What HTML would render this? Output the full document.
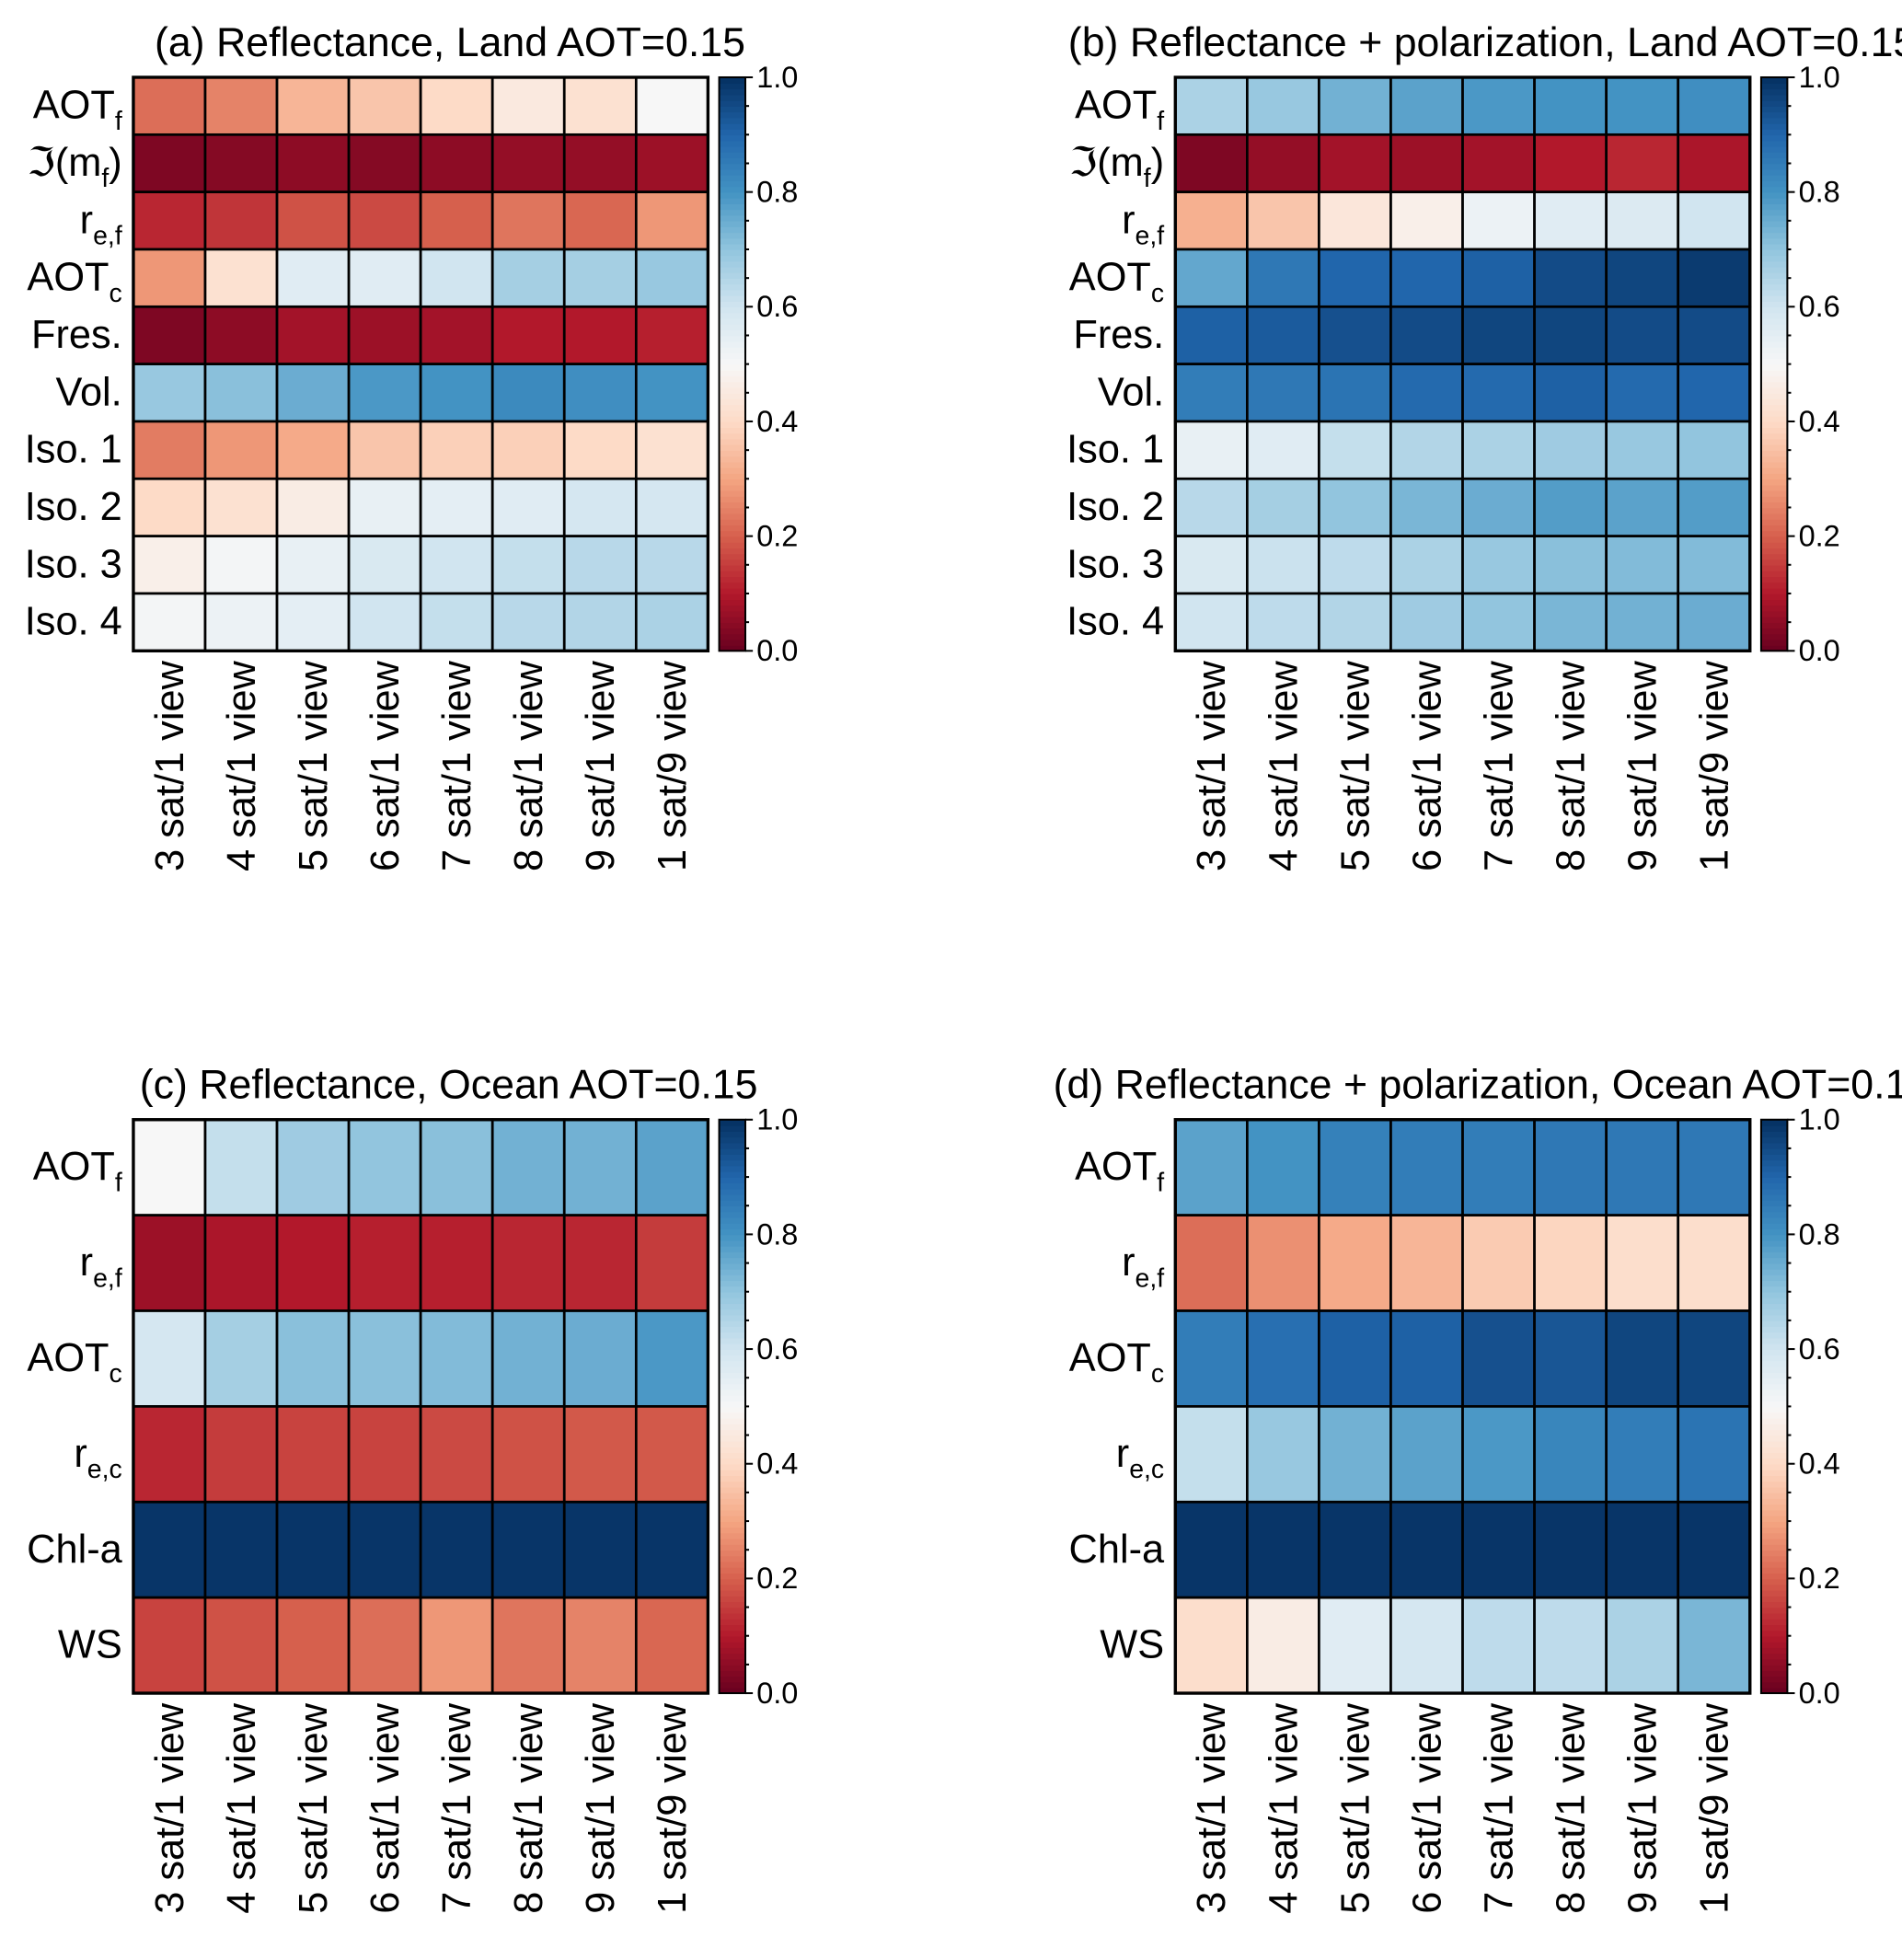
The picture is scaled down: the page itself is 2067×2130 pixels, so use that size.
<!DOCTYPE html>
<html><head><meta charset="utf-8"><style>
html,body{margin:0;padding:0;background:#fff;overflow:hidden;}
svg{display:block;}
text{font-family:"Liberation Sans",Arial,sans-serif;fill:#000;}
</style></head>
<body>
<svg id="fig" width="2067" height="2130" viewBox="0 0 1526 1572" preserveAspectRatio="none" xmlns="http://www.w3.org/2000/svg"></svg>
<script>
const categories = ["3 sat/1 view","4 sat/1 view","5 sat/1 view","6 sat/1 view","7 sat/1 view","8 sat/1 view","9 sat/1 view","1 sat/9 view"];
const landRows = [["AOT","f"],["ℑ(m","f",")"],["r","e,f"],["AOT","c"],["Fres."],["Vol."],["Iso. 1"],["Iso. 2"],["Iso. 3"],["Iso. 4"]];
const oceanRows = [["AOT","f"],["r","e,f"],["AOT","c"],["r","e,c"],["Chl-a"],["WS"]];
const colorbarTicks = [0,0.2,0.4,0.6,0.8,1.0];
const valuesA = [
[0.22,0.25,0.33,0.36,0.40,0.45,0.42,0.50],
[0.03,0.04,0.05,0.04,0.05,0.06,0.06,0.07],
[0.12,0.14,0.18,0.17,0.20,0.23,0.21,0.28],
[0.28,0.42,0.56,0.56,0.60,0.67,0.67,0.69],
[0.03,0.05,0.08,0.07,0.08,0.10,0.10,0.11],
[0.69,0.71,0.75,0.79,0.80,0.82,0.81,0.80],
[0.24,0.28,0.31,0.36,0.38,0.38,0.40,0.42],
[0.40,0.42,0.46,0.54,0.55,0.56,0.59,0.59],
[0.47,0.51,0.54,0.58,0.60,0.62,0.64,0.64],
[0.51,0.53,0.55,0.60,0.62,0.64,0.65,0.66]];
const valuesB = [
[0.66,0.69,0.74,0.77,0.79,0.80,0.80,0.81],
[0.03,0.06,0.08,0.07,0.08,0.10,0.12,0.09],
[0.32,0.36,0.44,0.47,0.53,0.56,0.57,0.60],
[0.76,0.86,0.90,0.90,0.91,0.95,0.96,0.98],
[0.91,0.92,0.94,0.95,0.96,0.96,0.95,0.95],
[0.85,0.86,0.87,0.89,0.89,0.91,0.89,0.90],
[0.54,0.56,0.62,0.65,0.66,0.68,0.69,0.70],
[0.64,0.67,0.70,0.73,0.75,0.78,0.77,0.78],
[0.58,0.61,0.63,0.66,0.69,0.71,0.72,0.72],
[0.60,0.63,0.65,0.68,0.70,0.73,0.74,0.75]];
const valuesC = [
[0.50,0.62,0.68,0.70,0.71,0.74,0.74,0.77],
[0.07,0.09,0.10,0.11,0.11,0.12,0.12,0.15],
[0.59,0.67,0.71,0.71,0.72,0.74,0.75,0.79],
[0.12,0.15,0.16,0.16,0.17,0.18,0.19,0.19],
[0.99,0.99,0.99,0.99,0.99,0.99,0.99,0.99],
[0.16,0.18,0.20,0.22,0.28,0.23,0.25,0.21]];
const valuesD = [
[0.77,0.80,0.84,0.85,0.85,0.86,0.86,0.86],
[0.22,0.27,0.31,0.33,0.37,0.39,0.41,0.41],
[0.85,0.88,0.91,0.91,0.94,0.93,0.96,0.96],
[0.62,0.69,0.74,0.77,0.79,0.83,0.85,0.87],
[0.99,0.99,0.99,0.99,0.99,0.99,0.99,0.99],
[0.41,0.46,0.56,0.59,0.63,0.63,0.66,0.73]];

const NS="http://www.w3.org/2000/svg";
const svg=document.getElementById('fig');
const rdbu=["#67001f","#b2182b","#d6604d","#f4a582","#fddbc7","#f7f7f7","#d1e5f0","#92c5de","#4393c3","#2166ac","#053061"];
function hx(c){return [1,3,5].map(i=>parseInt(c.substr(i,2),16));}
function cmap(v){v=Math.max(0,Math.min(1,v));const p=v*10,i=Math.min(9,Math.floor(p)),t=p-i;const a=hx(rdbu[i]),b=hx(rdbu[i+1]);return "rgb("+a.map((x,k)=>Math.round(x+(b[k]-x)*t)).join(",")+")";}
function el(tag,attrs,parent){const e=document.createElementNS(NS,tag);for(const k in attrs)e.setAttribute(k,attrs[k]);(parent||svg).appendChild(e);return e;}

const panels=[
 {id:"a",title:"(a) Reflectance, Land AOT=0.15",tx:361,anchor:"middle",x0:107,y0:62,rows:landRows,vals:valuesA},
 {id:"b",title:"(b) Reflectance + polarization, Land AOT=0.15",tx:857,anchor:"start",x0:943,y0:62,rows:landRows,vals:valuesB},
 {id:"c",title:"(c) Reflectance, Ocean AOT=0.15",tx:360,anchor:"middle",x0:107,y0:898,rows:oceanRows,vals:valuesC},
 {id:"d",title:"(d) Reflectance + polarization, Ocean AOT=0.15",tx:845,anchor:"start",x0:943,y0:898,rows:oceanRows,vals:valuesD}];
const W=461,H=460;
panels.forEach(P=>{
 const g=el('g',{});
 
 
 const t=el('text',{x:P.tx,y:P.y0-17,'font-size':33,'text-anchor':P.anchor},g);
 t.textContent=P.title;
 
 
 const nr=P.rows.length,nc=categories.length,cw=W/nc,ch=H/nr;
 const xs=c=>P.x0+c*cw, ys=r=>P.y0+r*ch;
 P.vals.forEach((row,r)=>row.forEach((v,c)=>{
  const rc=el('rect',{x:xs(c),y:ys(r),width:cw,height:ch,fill:cmap(v),stroke:"#000","stroke-width":2},g);
  
  
 }));
 el('rect',{x:P.x0,y:P.y0,width:W,height:H,fill:"none",stroke:"#000","stroke-width":2.5},g);
 P.rows.forEach((lab,r)=>{
  const tt=el('text',{x:P.x0-9,y:ys(r)+ch/2+10,'font-size':32,'text-anchor':'end'},g);
  
  
  const a=el('tspan',{},tt);a.textContent=lab[0];
  if(lab[1]){const s=el('tspan',{'font-size':21,dy:9},tt);s.textContent=lab[1];}
  if(lab[2]){const s=el('tspan',{dy:-9},tt);s.textContent=lab[2];}
 });
 categories.forEach((cat,c)=>{
  const cx=xs(c)+cw/2+11, cy=P.y0+H+8;
  const tt=el('text',{x:cx,y:cy,'font-size':32,'text-anchor':'end',transform:`rotate(-90 ${cx} ${cy})`},g);
  tt.textContent=cat;
  
  
 });
 const bx=P.x0+W+9,bw=21;
 const cb=el('g',{},g);
 
 
 const N=100;
 for(let i=0;i<N;i++){el('rect',{x:bx,y:P.y0+H-(i+1)*H/N,width:bw,height:H/N+0.6,fill:cmap((i+0.5)/N)},cb);}
 el('rect',{x:bx,y:P.y0,width:bw,height:H,fill:"none",stroke:"#000","stroke-width":1.5},cb);
 for(let k=0;k<=20;k++){const y=P.y0+H-k*H/20;el('line',{x1:bx+bw,x2:bx+bw+(k%4==0?6:3),y1:y,y2:y,stroke:"#000","stroke-width":1.5},cb);}
 colorbarTicks.forEach(v=>{
  const y=P.y0+H-v*H;
  const tt=el('text',{x:bx+bw+9,y:y+8,'font-size':24},cb);
  tt.textContent=v.toFixed(1);
  
  
 });
});
</script>
</body></html>
